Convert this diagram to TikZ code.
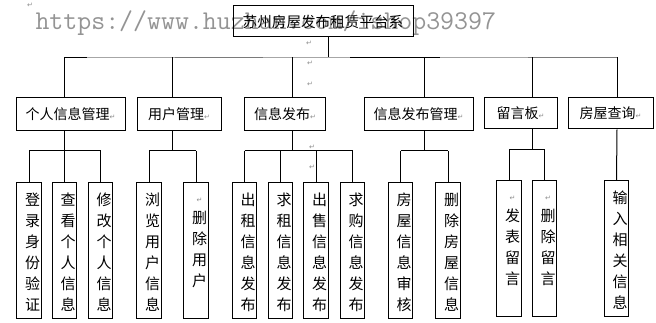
\documentclass[tikz,border=0pt]{standalone}
\usepackage{fontspec}
\setmainfont{Liberation Sans}
\newfontfamily\cjk{Noto Sans CJK SC}
\newfontfamily\djv{DejaVu Sans}
\newcommand{\rmark}{{\djv\fontsize{7}{7}\selectfont\textcolor{black!45}{↵}}}
\begin{document}
\begin{tikzpicture}[x=1pt,y=-1pt,line width=1pt,
  wm/.style={inner sep=0,anchor=base west,text=black!42,font=\ttfamily\fontsize{27.1}{28}\selectfont},
  topbox/.style={draw,inner sep=0,minimum width=180,minimum height=31,font=\cjk\fontsize{14.6}{16}\selectfont},
  midbox/.style={draw,inner sep=0,minimum height=33,font=\cjk\fontsize{14}{16}\selectfont},
  leafbox/.style={draw,inner sep=0,minimum width=24.5,minimum height=135},
  leaftext/.style={inner sep=0,align=center,font=\cjk\fontsize{15}{21}\selectfont},
  pmark/.style={inner sep=0,font=\djv\fontsize{7}{7}\selectfont,text=black!45},
  busa/.style={draw=black!35},
  busb/.style={draw=black!52}]
\useasboundingbox (0,0) rectangle (656,323);
% watermark
\node[wm] (wm) at (35,30) {https://www.huzhan.com/ishop39397};
% paragraph marks
\node[pmark] (m1) at (30,5) {↵};
\node[pmark] (m2) at (309,43) {↵};
\node[pmark] (m3) at (310,63) {↵};
\node[pmark] (m4) at (310,84) {↵};
\node[pmark] (m5) at (312,147) {↵};
\node[pmark] (m6) at (312,167) {↵};
% top
\node[topbox] (top) at (323,21.5) {苏州房屋发布租赁平台系};
% level 2
\node[midbox,minimum width=109] (A) at (70.5,114.5) {个人信息管理\rmark};
\node[midbox,minimum width=84] (B) at (179,114.5) {用户管理\rmark};
\node[midbox,minimum width=81] (C) at (285,114.5) {信息发布\rmark};
\node[midbox,minimum width=109] (D) at (418.5,114.5) {信息发布管理\rmark};
\node[midbox,minimum width=73,minimum height=31] (E) at (520.5,113.5) {留言板\rmark};
\node[midbox,minimum width=85,minimum height=31] (F) at (610.5,113.5) {房屋查询\rmark};
% bus
\coordinate (ts) at (328,57.5);
\coordinate (b1) at (64,57.5);
\coordinate (b2) at (172,57.5);
\coordinate (b3) at (292,57.5);
\coordinate (b4) at (424,57.5);
\coordinate (b5) at (532,57.5);
\coordinate (b6) at (617,57.5);
\draw (ts |- top.south) -- (ts);
\draw (b1) -- (b6);
\draw[busa] (87,57.5) -- (175,57.5);
\draw[busb] (175,57.5) -- (263,57.5);
\draw[busa] (263,57.5) -- (350,57.5);
\draw[busa] (440,57.5) -- (528,57.5);
\draw[busb] (528,57.5) -- (617,57.5);
\foreach \b/\n in {b1/A,b2/B,b3/C,b4/D,b5/E,b6/F} \draw (\b) -- (\b |- \n.north);
% leaves
\node[leafbox] (l1) at (29,250.5) {};
\node[leafbox] (l2) at (64.5,250.5) {};
\node[leafbox] (l3) at (100.5,250.5) {};
\node[leafbox] (l4) at (149,250.5) {};
\node[leafbox] (l5) at (196,250.5) {};
\node[leafbox] (l6) at (244.5,250.5) {};
\node[leafbox] (l7) at (280.5,250.5) {};
\node[leafbox] (l8) at (316,250.5) {};
\node[leafbox] (l9) at (352.5,250.5) {};
\node[leafbox] (l10) at (400.5,250.5) {};
\node[leafbox] (l11) at (448,250.5) {};
\node[leafbox] (l12) at (509,248.5) {};
\node[leafbox] (l13) at (544.5,248.5) {};
\node[leafbox] (l14) at (616.5,248.5) {};
\foreach \l/\t in {l1/{登\\录\\身\\份\\验\\证},l2/{查\\看\\个\\人\\信\\息},l3/{修\\改\\个\\人\\信\\息},
  l4/{浏\\览\\用\\户\\信\\息},l5/{\rmark\\删\\除\\用\\户\\~},l6/{出\\租\\信\\息\\发\\布},
  l7/{求\\租\\信\\息\\发\\布},l8/{出\\售\\信\\息\\发\\布},l9/{求\\购\\信\\息\\发\\布},
  l10/{房\\屋\\信\\息\\审\\核},l11/{删\\除\\房\\屋\\信\\息},l12/{\rmark\\发\\表\\留\\言\\~},
  l13/{\rmark\\删\\除\\留\\言\\~},l14/{输\\入\\相\\关\\信\\息}}
  \node[leaftext] (\l t) at ([shift={(3.5,2)}]\l.center) {\t};
% sub-buses
\coordinate (ya) at (0,151);
\coordinate (ye) at (0,150);
\draw (b1 |- A.south) -- (b1 |- ya);
\draw (l1.north |- ya) -- (l3.north |- ya);
\foreach \l in {l1,l2,l3} \draw (\l.north |- ya) -- (\l.north);
\draw (b2 |- B.south) -- (b2 |- ya);
\draw (l4.north |- ya) -- (l5.north |- ya);
\foreach \l in {l4,l5} \draw (\l.north |- ya) -- (\l.north);
\draw (b3 |- C.south) -- (b3 |- ya);
\draw (l6.north |- ya) -- (l9.north |- ya);
\foreach \l in {l6,l7,l8,l9} \draw (\l.north |- ya) -- (\l.north);
\draw (b4 |- D.south) -- (b4 |- ya);
\draw (l10.north |- ya) -- (l11.north |- ya);
\foreach \l in {l10,l11} \draw (\l.north |- ya) -- (\l.north);
\draw (b5 |- E.south) -- (b5 |- ye);
\draw (l12.north |- ye) -- (l13.north |- ye);
\foreach \l in {l12,l13} \draw (\l.north |- ye) -- (\l.north);
\draw (b6 |- F.south) -- (l14.north);
\end{tikzpicture}
\end{document}
